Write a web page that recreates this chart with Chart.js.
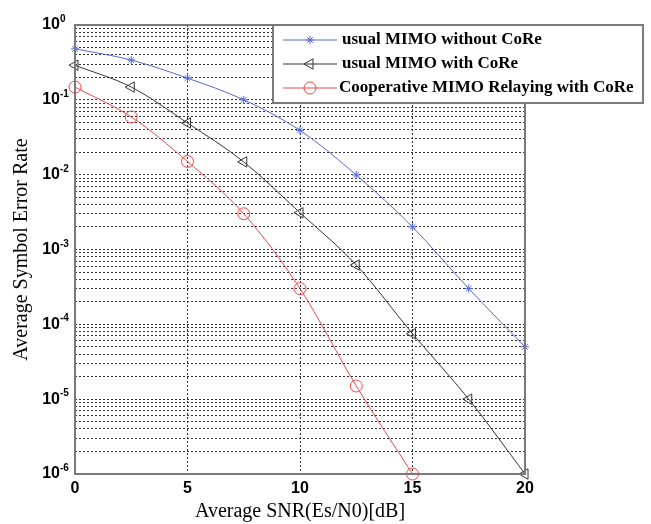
<!DOCTYPE html>
<html>
<head>
<meta charset="utf-8">
<script src="https://cdn.jsdelivr.net/npm/chart.js@4"></script>
<style>
  html, body { margin: 0; padding: 0; background: #fff; }
  #wrap { width: 651px; height: 524px; }
</style>
</head>
<body>
<div id="wrap"><canvas id="chart" width="651" height="524"></canvas></div>
<script>
// SNR points (dB)
const snr = [0, 2.5, 5, 7.5, 10, 12.5, 15, 17.5, 20];

// symbol error rate
const serNoCoRe   = [0.48, 0.34, 0.195, 0.10, 0.039, 0.0099, 0.002, 0.0003, 0.00005];
const serWithCoRe = [0.29, 0.148, 0.049, 0.0148, 0.0031, 0.00062, 0.000075, 0.00001, 0.000001];
const serCoop     = [0.148, 0.059, 0.015, 0.003, 0.0003, 0.000015, 0.000001];

const seriesNames = [
    'usual MIMO without CoRe',
    'usual MIMO with CoRe',
    'Cooperative MIMO Relaying with CoRe'
];

const xTicks = [0, 5, 10, 15, 20];
const yDecades = [-6, -5, -4, -3, -2, -1, 0];

const pairs = (ys) => ys.map((y, i) => ({x: snr[i], y: y}));

// matlab style: box, power-of-ten labels, legend inside the axes
const matlabBits = {
    id: 'matlabBits',
    afterDatasetsDraw(chart) {
        const ctx = chart.ctx;
        const area = chart.chartArea;
        const yScale = chart.scales.y;
        ctx.save();

        // y labels 10^n
        ctx.fillStyle = '#000';
        yDecades.forEach(e => {
            const py = yScale.getPixelForValue(Math.pow(10, e));
            ctx.font = 'bold 16px "Liberation Sans"';
            ctx.textAlign = 'right';
            ctx.textBaseline = 'middle';
            ctx.fillText('10', 60, py);
            ctx.font = 'bold 10px "Liberation Sans"';
            ctx.textAlign = 'left';
            ctx.textBaseline = 'alphabetic';
            ctx.fillText(String(e), 60, py - 3);
        });

        // frame around plot
        ctx.strokeStyle = '#7a7a7a';
        ctx.lineWidth = 2;
        ctx.strokeRect(area.left, area.top, area.right - area.left, area.bottom - area.top);

        // legend
        const x0 = 273, y0 = 25, w = 370, h = 78;
        ctx.fillStyle = '#fff';
        ctx.fillRect(x0, y0, w, h);
        ctx.strokeRect(x0, y0, w, h);

        chart.data.datasets.forEach((ds, i) => {
            const y = 40 + i * 24;
            ctx.strokeStyle = ds.borderColor;
            ctx.fillStyle = ds.backgroundColor;
            ctx.lineWidth = 1;
            ctx.beginPath();
            ctx.moveTo(283, y);
            ctx.lineTo(337, y);
            ctx.stroke();
            Chart.helpers.drawPoint(ctx, {
                pointStyle: ds.pointStyle,
                rotation: ds.pointRotation || 0,
                radius: ds.pointRadius,
                borderWidth: 1
            }, 310, y);
            ctx.fillStyle = '#000';
            ctx.font = 'bold 17px "Liberation Serif"';
            ctx.textAlign = 'left';
            ctx.textBaseline = 'middle';
            ctx.fillText(ds.label, i === 2 ? 339 : 342, y);
        });
        ctx.restore();
    }
};

const ctx = document.getElementById('chart').getContext('2d');
new Chart(ctx, {
    type: 'line',
    data: {
        datasets: [
            {
                label: seriesNames[0],
                data: pairs(serNoCoRe),
                borderColor: '#5468d8',
                backgroundColor: '#5468d8',
                pointStyle: 'star',
                pointRadius: 4,
                borderWidth: 1,
                cubicInterpolationMode: 'monotone',
                clip: 10
            },
            {
                label: seriesNames[1],
                data: pairs(serWithCoRe),
                borderColor: '#333333',
                backgroundColor: 'rgba(0,0,0,0)',
                pointStyle: 'triangle',
                pointRotation: -90,
                pointRadius: 6,
                borderWidth: 1,
                cubicInterpolationMode: 'monotone',
                clip: 10
            },
            {
                label: seriesNames[2],
                data: pairs(serCoop),
                borderColor: '#f04848',
                backgroundColor: 'rgba(0,0,0,0)',
                pointStyle: 'circle',
                pointRadius: 6,
                borderWidth: 1,
                cubicInterpolationMode: 'monotone',
                clip: 10
            }
        ]
    },
    options: {
        responsive: false,
        animation: false,
        layout: {padding: {top: 25, right: 126, left: 0, bottom: 0}},
        plugins: {
            legend: {display: false},
            tooltip: {enabled: false}
        },
        scales: {
            x: {
                type: 'linear',
                min: 0,
                max: 20,
                afterFit: (scale) => { scale.height = 50; },
                afterBuildTicks: (scale) => { scale.ticks = xTicks.map(v => ({value: v})); },
                ticks: {
                    color: '#000',
                    font: {family: 'Liberation Sans', size: 16, weight: 'bold'},
                    padding: 5
                },
                grid: {color: '#333', lineWidth: 1, drawTicks: false},
                border: {display: false, dash: [2, 2]},
                title: {
                    display: true,
                    text: 'Average SNR(Es/N0)[dB]',
                    color: '#000',
                    font: {family: 'Liberation Serif', size: 20},
                    padding: {top: 0, bottom: 0}
                }
            },
            y: {
                type: 'logarithmic',
                min: 1e-6,
                max: 1,
                afterFit: (scale) => { scale.width = 75; },
                afterBuildTicks: (scale) => {
                    const t = [];
                    yDecades.forEach(e => {
                        const steps = e === 0 ? [1] : [1, 2, 3, 4, 5, 6, 7, 8, 9];
                        steps.forEach(m => t.push({value: m * Math.pow(10, e)}));
                    });
                    scale.ticks = t;
                },
                ticks: {display: false, autoSkip: false},
                grid: {color: '#333', lineWidth: 1, drawTicks: false},
                border: {display: false, dash: [2, 2]},
                title: {
                    display: true,
                    text: 'Average Symbol Error Rate',
                    color: '#000',
                    font: {family: 'Liberation Serif', size: 20},
                    padding: {top: 10, bottom: 0}
                }
            }
        }
    },
    plugins: [matlabBits]
});
</script>
</body>
</html>
